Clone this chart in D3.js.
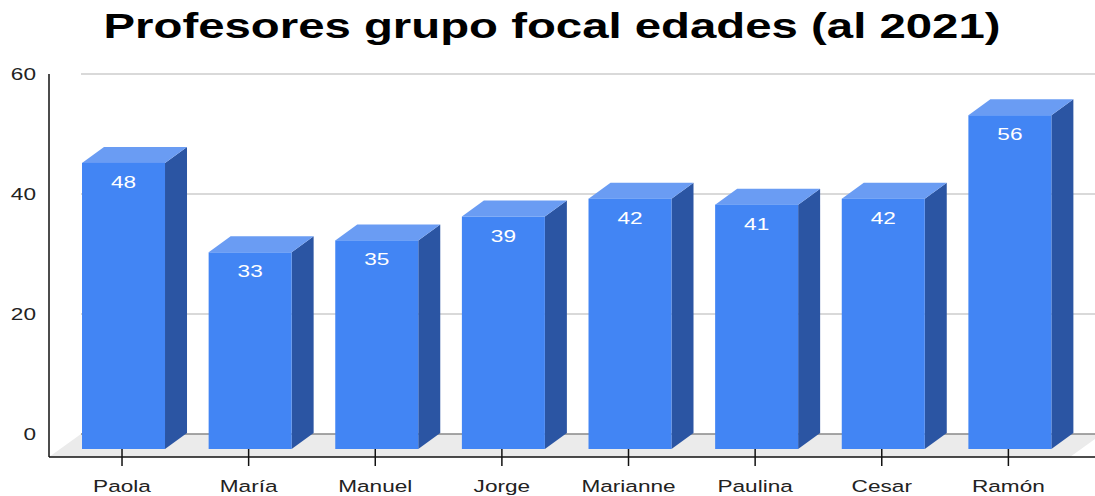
<!DOCTYPE html>
<html>
<head>
<meta charset="utf-8">
<script src="https://cdn.jsdelivr.net/npm/d3@7"></script>
<style>
html,body{margin:0;padding:0;background:#fff;}
svg{display:block;font-family:"Liberation Sans",Arial,sans-serif;}
</style>
</head>
<body>
<svg id="chart" width="1095" height="496"></svg>
<script>
const title = "Profesores grupo focal edades (al 2021)";
const categories = ["Paola","María","Manuel","Jorge","Marianne","Paulina","Cesar","Ramón"];
const values = [48,33,35,39,42,41,42,56];
const yTicks = [0,20,40,60];

const svg = d3.select("#chart");
const W = 1095, H = 496;
const SX = 1.33; // horizontal stretch of text as in the reference

// geometry
const frontLeft = 49, frontBottom = 457;
const wallDx = 32, wallDy = -23;
const barDx = 22, barDy = -16;

const yBack = d3.scaleLinear().domain([0,60]).range([434,74]);
const yBar = d3.scaleLinear().domain([0,60]).range([449,91.4]);
const x = d3.scalePoint().domain(categories).range([60.2,1073.2]).padding(0.5);
const barW = 83;

// title
svg.append("text")
  .attr("transform", `translate(552,38) scale(${SX},1)`)
  .attr("text-anchor","middle")
  .attr("font-size", 35.6).attr("font-weight","bold")
  .attr("fill","#000")
  .text(title);

// floor
const floorPts = [[frontLeft,frontBottom],[frontLeft+wallDx,frontBottom+wallDy],[1102,frontBottom+wallDy],[1070,frontBottom]];
svg.append("path").attr("d", d3.line()(floorPts)+"Z").attr("fill","#ebebeb");

// gridlines on back wall
svg.append("g").selectAll("line").data(yTicks).join("line")
  .attr("x1", frontLeft+wallDx).attr("x2", W)
  .attr("y1", d=>yBack(d)).attr("y2", d=>yBack(d))
  .attr("stroke", d=> d===0 ? "#888" : "#ccc").attr("stroke-width", 1.5);

// y labels
svg.append("g").selectAll("text").data(yTicks).join("text")
  .attr("transform", d=>`translate(36,${yBack(d)}) scale(${SX},1)`)
  .attr("dy","0.35em").attr("text-anchor","end")
  .attr("font-size",17).attr("fill","#222")
  .text(d=>d);

// bars
const bars = svg.append("g").selectAll("g").data(values).join("g");
bars.each(function(v,i){
  const g = d3.select(this);
  const cx = x(categories[i]);
  const x0 = cx - barW/2, x1 = cx + barW/2;
  const yt = yBar(v), yb = yBar(0);
  g.append("path").attr("d", d3.line()([[x1,yb],[x1,yt],[x1+barDx,yt+barDy],[x1+barDx,yb+barDy]])+"Z")
    .attr("fill","#2b55a3");
  g.append("path").attr("d", d3.line()([[x0,yt],[x0+barDx,yt+barDy],[x1+barDx,yt+barDy],[x1,yt]])+"Z")
    .attr("fill","#6a9cf3");
  g.append("rect").attr("x",x0).attr("y",yt).attr("width",barW).attr("height",yb-yt)
    .attr("fill","#4285f4");
  g.append("text").attr("transform",`translate(${cx},${yt+19}) scale(${SX},1)`).attr("dy","0.35em")
    .attr("text-anchor","middle").attr("font-size",17).attr("fill","#fff")
    .text(v);
});

// axes lines
svg.append("line").attr("x1",frontLeft).attr("x2",frontLeft).attr("y1",74).attr("y2",frontBottom)
  .attr("stroke","#111").attr("stroke-width",1.5);
svg.append("line").attr("x1",frontLeft).attr("x2",W).attr("y1",frontBottom).attr("y2",frontBottom)
  .attr("stroke","#111").attr("stroke-width",1.5);

// x ticks and labels
const xt = svg.append("g").selectAll("g").data(categories).join("g")
  .attr("transform", d=>`translate(${x(d)-1.5},0)`);
xt.append("line").attr("y1",frontBottom-8).attr("y2",frontBottom+9).attr("stroke","#111").attr("stroke-width",1.5);
xt.append("text").attr("transform",`translate(0,486) scale(${SX},1)`).attr("dy","0.35em").attr("text-anchor","middle")
  .attr("font-size",17).attr("fill","#222").text(d=>d);
</script>
</body>
</html>
